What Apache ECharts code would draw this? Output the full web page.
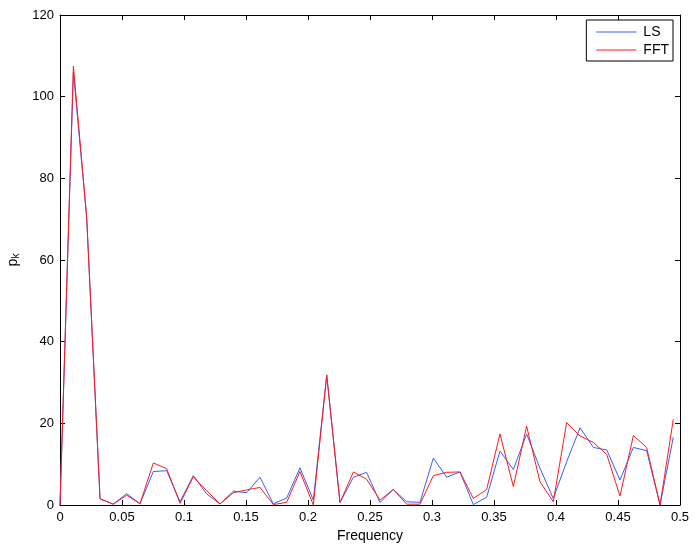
<!DOCTYPE html>
<html>
<head>
<meta charset="utf-8">
<script src="https://cdn.jsdelivr.net/npm/echarts@6/dist/echarts.min.js"></script>
<style>html,body{margin:0;padding:0;background:#fff}#c{width:695px;height:545px}</style>
</head>
<body>
<div id="c"></div>
<script>
var freqs = [0, 0.0108, 0.0215, 0.0323, 0.0430, 0.0538, 0.0645, 0.0753, 0.0860, 0.0968,
  0.1075, 0.1183, 0.1290, 0.1398, 0.1505, 0.1613, 0.1720, 0.1828, 0.1935, 0.2043,
  0.2151, 0.2258, 0.2366, 0.2473, 0.2581, 0.2688, 0.2796, 0.2903, 0.3011, 0.3118,
  0.3226, 0.3333, 0.3441, 0.3548, 0.3656, 0.3763, 0.3871, 0.3978, 0.4086, 0.4194,
  0.4301, 0.4409, 0.4516, 0.4624, 0.4731, 0.4839, 0.4946];
var lsValues = [0, 106, 70.5, 1.5, 0.2, 2.8, 0.3, 8.2, 8.4, 0.8,
  7.2, 2.7, 0.25, 3.4, 3.0, 6.8, 0.3, 1.7, 9.1, 1.2,
  31.8, 0.6, 6.8, 8.0, 0.6, 3.8, 0.8, 0.65, 11.5, 6.8,
  8.1, 0.1, 1.9, 13.2, 8.7, 17.4, 9.0, 1.6, 10.6, 18.9,
  14.1, 13.5, 6.1, 14.1, 13.3, 0, 16.6];
var fftValues = [0, 107.5, 70.5, 1.5, 0.2, 2.4, 0.3, 10.3, 8.9, 0.4,
  6.9, 3.5, 0.25, 3.0, 3.7, 4.3, 0.1, 0.65, 8.2, 0,
  31.8, 0.6, 8.1, 6.3, 1.2, 3.8, 0.2, 0.2, 7.2, 8.0,
  8.1, 1.6, 3.8, 17.4, 4.5, 19.3, 5.7, 0.8, 20.2, 16.9,
  15.3, 12.4, 2.2, 17.0, 14.1, 0, 21.0];
var xTicks = [0, 0.05, 0.1, 0.15, 0.2, 0.25, 0.3, 0.35, 0.4, 0.45, 0.5];
var yTicks = [0, 20, 40, 60, 80, 100, 120];

function pairs(xs, ys) { return xs.map(function (x, i) { return [x, ys[i]]; }); }

var font = 'Liberation Sans, Arial, Helvetica, sans-serif';
var chart = echarts.init(document.getElementById('c'), null, {renderer: 'canvas'});
var axisCommon = {
  axisLine: {show: true, onZero: false, lineStyle: {color: '#000', width: 1}},
  axisTick: {show: true, inside: true, length: 5, lineStyle: {color: '#000'}},
  splitLine: {show: false}
};
chart.setOption({
  animation: false,
  backgroundColor: '#fff',
  grid: {left: 60, right: 15, top: 15, bottom: 40, containLabel: false, outerBoundsMode: 'none'},
  legend: {
    data: [{name: 'LS', icon: 'rect'}, {name: 'FFT', icon: 'rect'}],
    orient: 'vertical', right: 22, top: 20,
    itemWidth: 40, itemHeight: 1, itemGap: 4,
    padding: [5, 4, 4, 10],
    borderColor: '#000', borderWidth: 1, backgroundColor: '#fff',
    textStyle: {fontFamily: font, fontSize: 14, color: '#000', padding: [0, 0, 0, 2]}
  },
  xAxis: [
    Object.assign({}, axisCommon, {
      type: 'value', min: 0, max: 0.5, interval: 0.05, position: 'bottom',
      name: 'Frequency', nameLocation: 'middle', nameGap: 24,
      nameTextStyle: {fontFamily: font, fontSize: 14, color: '#000'},
      axisLabel: {fontFamily: font, fontSize: 13, color: '#000', margin: 6,
        formatter: function (v) { var t = xTicks.find(function (a) { return Math.abs(a - v) < 1e-9; }); return t === undefined ? '' : String(t); }}
    }),
    Object.assign({}, axisCommon, {
      type: 'value', min: 0, max: 0.5, interval: 0.05, position: 'top',
      axisLabel: {show: false}
    })
  ],
  yAxis: [
    Object.assign({}, axisCommon, {
      type: 'value', min: 0, max: 120, interval: 20, position: 'left',
      name: '{a|p}{b|k}', nameLocation: 'middle', nameGap: 38, nameRotate: 90,
      nameTextStyle: {fontFamily: font, color: '#000',
        rich: {a: {fontFamily: font, fontSize: 14, color: '#000'},
               b: {fontFamily: font, fontSize: 10, color: '#000', padding: [7, 0, 0, 0]}}},
      axisLabel: {fontFamily: font, fontSize: 13, color: '#000', margin: 6,
        formatter: function (v) { return yTicks.indexOf(v) >= 0 ? String(v) : ''; }}
    }),
    Object.assign({}, axisCommon, {
      type: 'value', min: 0, max: 120, interval: 20, position: 'right',
      axisLabel: {show: false}
    })
  ],
  series: [
    {name: 'LS', type: 'line', data: pairs(freqs, lsValues), showSymbol: false, symbol: 'none',
     lineStyle: {color: '#3a5cff', width: 1}, itemStyle: {color: '#3a5cff'}, z: 2},
    {name: 'FFT', type: 'line', data: pairs(freqs, fftValues), showSymbol: false, symbol: 'none',
     lineStyle: {color: '#ff1a1a', width: 1}, itemStyle: {color: '#ff1a1a'}, z: 3}
  ]
});
</script>
</body>
</html>
